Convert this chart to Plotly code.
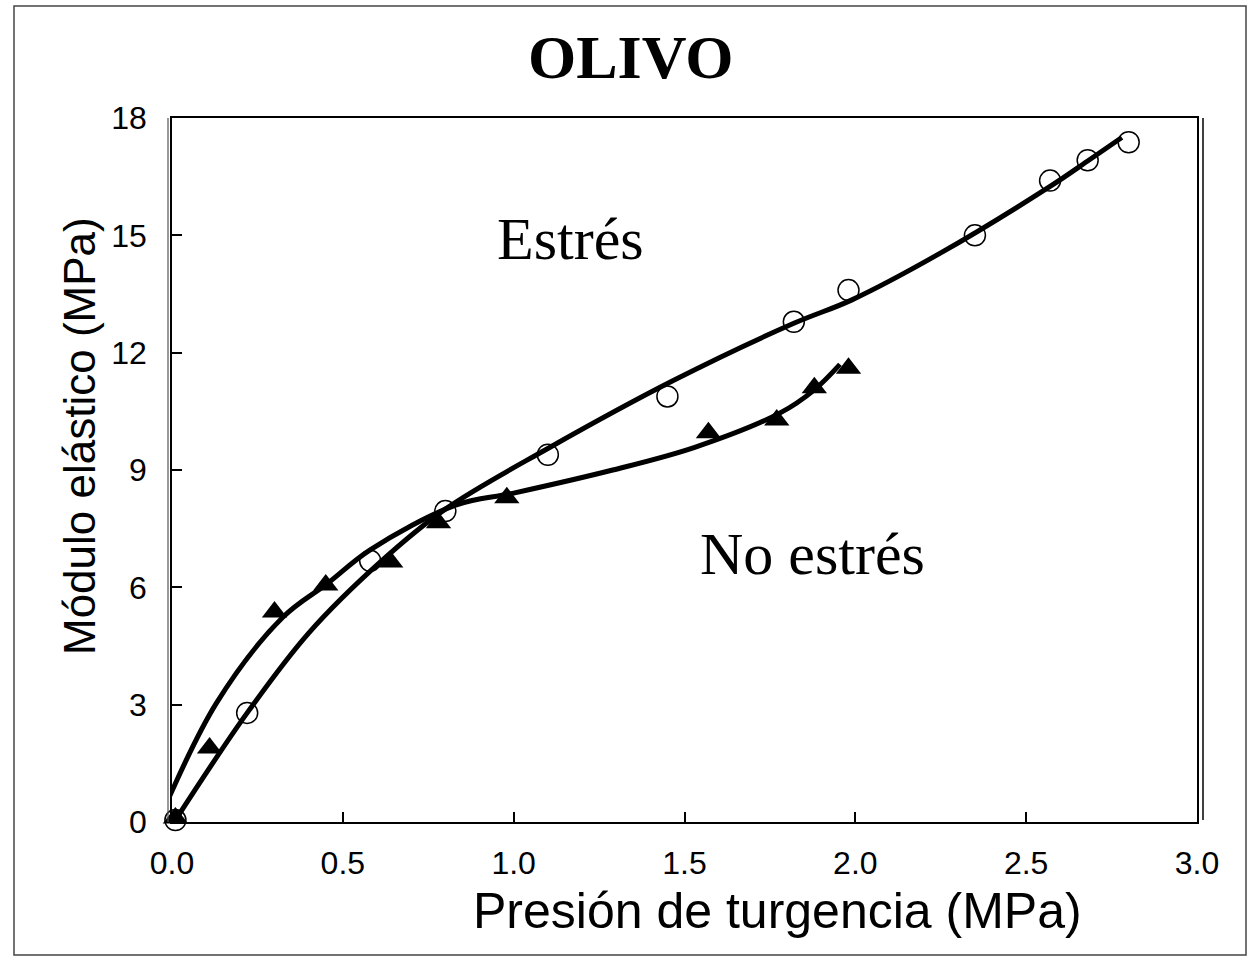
import plotly.graph_objects as go

# Measured points
estres_x = [0.01, 0.22, 0.58, 0.80, 1.10, 1.45, 1.82, 1.98, 2.35, 2.57, 2.68, 2.80]
estres_y = [0.05, 2.79, 6.68, 7.95, 9.39, 10.88, 12.79, 13.60, 15.00, 16.40, 16.92, 17.38]

noestres_x = [0.01, 0.11, 0.30, 0.45, 0.64, 0.78, 0.98, 1.57, 1.77, 1.88, 1.98]
noestres_y = [0.10, 1.89, 5.37, 6.06, 6.65, 7.65, 8.29, 9.95, 10.28, 11.10, 11.60]

# Trend curves
estres_fit_x = [0.01, 0.22, 0.40, 0.61, 0.80, 1.10, 1.47, 1.82, 1.99, 2.25, 2.57, 2.68, 2.78]
estres_fit_y = [0.05, 2.79, 4.83, 6.65, 8.00, 9.55, 11.30, 12.75, 13.35, 14.55, 16.25, 16.90, 17.50]

noestres_fit_x = [-0.03, 0.13, 0.325, 0.455, 0.58, 0.83, 1.00, 1.29, 1.53, 1.78, 1.88, 1.955]
noestres_fit_y = [0.20, 3.04, 5.24, 6.10, 6.96, 8.10, 8.41, 9.00, 9.58, 10.46, 11.05, 11.70]

x_ticks = [0.0, 0.5, 1.0, 1.5, 2.0, 2.5, 3.0]
y_ticks = [0, 3, 6, 9, 12, 15, 18]

fig = go.Figure()

fig.add_trace(go.Scatter(
    x=estres_x, y=estres_y, mode="markers", name="Estrés",
    marker=dict(symbol="circle-open", size=21, color="black", line=dict(width=1.5, color="black")),
    cliponaxis=False, showlegend=False))
fig.add_trace(go.Scatter(
    x=noestres_x, y=noestres_y, mode="markers", name="No estrés",
    marker=dict(symbol="triangle-up", size=22, color="black"),
    cliponaxis=False, showlegend=False))
fig.add_trace(go.Scatter(
    x=estres_fit_x, y=estres_fit_y, mode="lines", line=dict(color="black", width=5, shape="spline"),
    cliponaxis=False, showlegend=False, hoverinfo="skip"))
fig.add_trace(go.Scatter(
    x=noestres_fit_x, y=noestres_fit_y, mode="lines", line=dict(color="black", width=5, shape="spline"),
    cliponaxis=False, showlegend=False, hoverinfo="skip"))

tickfont = dict(family="Liberation Sans, Arial, sans-serif", size=32, color="black")

fig.update_xaxes(
    range=[0, 3], tickvals=x_ticks, ticktext=[f"{v:.1f}" for v in x_ticks],
    ticks="inside", ticklen=10, tickwidth=1.5, tickcolor="black",
    showline=True, linecolor="black", linewidth=1.5, mirror=True,
    showgrid=False, zeroline=False, tickfont=tickfont, ticklabelstandoff=12)
fig.update_yaxes(
    range=[0, 18], tickvals=y_ticks, ticktext=[str(v) for v in y_ticks],
    ticks="inside", ticklen=10, tickwidth=1.5, tickcolor="black",
    showline=True, linecolor="black", linewidth=1.5, mirror=True,
    showgrid=False, zeroline=False, tickfont=tickfont, ticklabelstandoff=17)

serif = "Liberation Serif, Times New Roman, serif"
sans = "Liberation Sans, Arial, sans-serif"

annotations = [
    dict(text="<b>OLIVO</b>", x=(630 - 172) / 1025, y=(822 - 57) / 704, xref="paper", yref="paper",
         showarrow=False, font=dict(family=serif, size=62, color="black"), xanchor="center", yanchor="middle"),
    dict(text="Estrés", x=1.165, y=14.9, xref="x", yref="y",
         showarrow=False, font=dict(family=serif, size=60, color="black"), xanchor="center", yanchor="middle"),
    dict(text="No estrés", x=1.876, y=6.85, xref="x", yref="y",
         showarrow=False, font=dict(family=serif, size=60, color="black"), xanchor="center", yanchor="middle"),
    dict(text="Presión de turgencia (MPa)", x=(777 - 172) / 1025, y=(822 - 911) / 704, xref="paper", yref="paper",
         showarrow=False, font=dict(family=sans, size=50, color="black"), xanchor="center", yanchor="middle"),
    dict(text="Módulo elástico (MPa)", x=(79 - 172) / 1025, y=(822 - 436) / 704, xref="paper", yref="paper",
         showarrow=False, textangle=-90, font=dict(family=sans, size=44, color="black"),
         xanchor="center", yanchor="middle"),
]

shapes = [
    dict(type="rect", xref="paper", yref="paper",
         x0=(14 - 172) / 1025, x1=(1246 - 172) / 1025, y0=(822 - 955) / 704, y1=(822 - 6) / 704,
         line=dict(color="#444", width=1.5), layer="below"),
    dict(type="line", xref="paper", yref="paper",
         x0=(168 - 172) / 1025, x1=(168 - 172) / 1025, y0=0, y1=1,
         line=dict(color="#555", width=1.2)),
    dict(type="line", xref="paper", yref="paper",
         x0=(1203 - 172) / 1025, x1=(1203 - 172) / 1025, y0=0.003, y1=1,
         line=dict(color="black", width=1.5)),
]

fig.update_layout(
    width=1249, height=964,
    margin=dict(l=172, r=52, t=118, b=142),
    paper_bgcolor="white", plot_bgcolor="white",
    annotations=annotations, shapes=shapes,
    showlegend=False)

fig.write_html("out.html")
